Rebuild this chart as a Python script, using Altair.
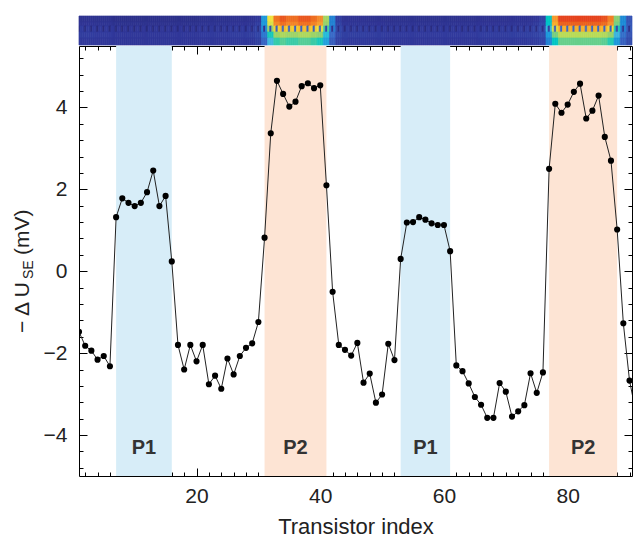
import altair as alt
import pandas as pd

# ---------------- data ----------------
transistor = list(range(1, 92))
delta_u = [
    -1.48, -1.82, -1.94, -2.16, -2.07, -2.32, 1.32, 1.78, 1.67, 1.59,
    1.67, 1.93, 2.46, 1.59, 1.84, 0.24, -1.80, -2.40, -1.80, -2.20,
    -1.80, -2.76, -2.55, -2.87, -2.13, -2.52, -2.07, -1.87, -1.76, -1.24,
    0.82, 3.37, 4.65, 4.33, 4.02, 4.14, 4.52, 4.59, 4.47, 4.54,
    2.10, -0.50, -1.80, -1.92, -2.06, -1.75, -2.72, -2.50, -3.21, -3.01,
    -1.77, -2.17, 0.30, 1.19, 1.20, 1.32, 1.26, 1.17, 1.13, 1.13,
    0.49, -2.30, -2.44, -2.74, -3.07, -3.26, -3.58, -3.58, -2.73, -2.94,
    -3.55, -3.42, -3.27, -2.49, -2.97, -2.47, 2.50, 4.09, 3.87, 4.07,
    4.38, 4.58, 3.73, 3.92, 4.29, 3.28, 2.70, 1.02, -1.27, -2.67,
    -3.43,
]
# relative intensity of the heat-map strip per transistor (0 = background, 1 = hottest)
heat = [
    0.03, 0.03, 0.03, 0.02, 0.02, 0.02, 0.0, 0.0, 0.0, 0.0,
    0.0, 0.0, 0.0, 0.0, 0.0, 0.0, 0.0, 0.0, 0.0, 0.0,
    0.02, 0.02, 0.02, 0.02, 0.02, 0.03, 0.03, 0.03, 0.04, 0.08,
    0.35, 0.72, 0.92, 0.97, 0.93, 0.93, 0.97, 0.97, 0.93, 0.88,
    0.62, 0.30, 0.10, 0.05, 0.04, 0.04, 0.04, 0.03, 0.03, 0.03,
    0.02, 0.02, 0.02, 0.02, 0.02, 0.02, 0.02, 0.02, 0.02, 0.02,
    0.02, 0.02, 0.02, 0.02, 0.02, 0.03, 0.03, 0.03, 0.03, 0.03,
    0.04, 0.04, 0.04, 0.05, 0.07, 0.12, 0.48, 0.85, 1.0, 1.0,
    1.0, 1.0, 1.0, 1.0, 1.0, 0.98, 0.90, 0.58, 0.32, 0.18,
    0.12,
]
band_start = [7, 31, 53, 77]
band_end = [16, 41, 61, 88]
band_label = ["P1", "P2", "P1", "P2"]
band_kind = ["P1", "P2", "P1", "P2"]

x_major = [20, 40, 60, 80]
x_minor = [v for v in range(2, 91, 2) if v % 20 != 0]
y_major = [-4, -2, 0, 2, 4]
y_minor = [-4.8, -4.4, -3.6, -3.2, -2.8, -2.4, -1.6, -1.2, -0.8, -0.4,
           0.4, 0.8, 1.2, 1.6, 2.4, 2.8, 3.2, 3.6, 4.4, 4.8, 5.2]

# heat-map rows (top to bottom): background level, hot level
heat_rows = [
    ("r0", 0.08, 0.97),
    ("r1", 0.10, 0.93),
    ("r2", 0.14, 0.80),
    ("r3", 0.15, 0.66),
    ("r4", 0.14, 0.57),
]
stripe_level = (0.03, 0.30)
heat_colors = ["#28297a", "#31389a", "#3a68c6", "#3fb6df", "#8fcf72",
               "#efe23e", "#f5902e", "#e0281f"]
heat_stops = [0.0, 0.15, 0.3, 0.45, 0.6, 0.72, 0.85, 1.0]

# ---------------- geometry ----------------
W, H = 553, 430
X_DOM = [1, 90.4]
FONT = "Liberation Sans"

xs = alt.Scale(domain=X_DOM, nice=False, zero=False)
ys = alt.Scale(domain=[-5, 5.5], nice=False, zero=False)

df = pd.DataFrame({"t": transistor, "u": delta_u})
bands = pd.DataFrame({"start": band_start, "end": band_end,
                      "label": band_label, "kind": band_kind})
bands["mid"] = (bands["start"] + bands["end"]) / 2

# heat-map cells
cells = []
for t, h in zip(transistor, heat):
    edges = [t - 0.5, t - 1 / 6, t + 1 / 6, t + 0.5]
    for k in range(3):
        x0 = max(edges[k], X_DOM[0])
        x1 = min(edges[k + 1], X_DOM[1])
        if x1 <= x0:
            continue
        for name, bg, hot in heat_rows:
            if name == "r2" and k == 1:
                bg, hot = stripe_level
            cells.append({"x0": x0, "x1": x1, "row": name, "v": bg + h * (hot - bg)})
cells = pd.DataFrame(cells)
row_pix = {"r0": (-30, -24), "r1": (-24, -20), "r2": (-20, -14), "r3": (-14, -8), "r4": (-8, -1)}


def x_axis(orient, values, size, labels=False, title=None):
    kw = dict(orient=orient, values=values, tickSize=size, offset=-size,
              domain=False, grid=False, labels=labels, tickColor="black",
              tickWidth=1)
    if labels:
        kw.update(labelFont=FONT, labelFontSize=21, labelColor="#222",
                  labelPadding=9)
    if title:
        kw.update(title=title, titleFont=FONT, titleFontSize=22,
                  titleFontWeight="normal", titleColor="#222", titlePadding=10)
    else:
        kw.update(title=None)
    return alt.Axis(**kw)


def y_axis(orient, values, size, labels=False):
    kw = dict(orient=orient, values=values, tickSize=size, offset=-size,
              domain=False, grid=False, labels=labels, tickColor="black",
              tickWidth=1, title=None)
    if labels:
        kw.update(labelFont=FONT, labelFontSize=21, labelColor="#222",
                  labelPadding=12)
    return alt.Axis(**kw)


layers = []

# heat-map strip above the plot
heat_scale = alt.Scale(domain=heat_stops, range=heat_colors)
for name, (p0, p1) in row_pix.items():
    layers.append(
        alt.Chart(cells).transform_filter(alt.datum.row == name).mark_rect(
            clip=False, strokeWidth=0.7
        ).encode(
            x=alt.X("x0:Q", scale=xs, axis=None),
            x2="x1:Q",
            y=alt.value(p0),
            y2=alt.value(p1),
            color=alt.Color("v:Q", scale=heat_scale, legend=None),
            stroke=alt.Stroke("v:Q", scale=heat_scale, legend=None),
        )
    )

# shaded bands
band_colors = {"P1": "#d7edf8", "P2": "#fde4d4"}
for kind, col in band_colors.items():
    layers.append(
        alt.Chart(bands).transform_filter(alt.datum.kind == kind).mark_rect(
            opacity=1
        ).encode(
            x=alt.X("start:Q", scale=xs, axis=None),
            x2="end:Q",
            y=alt.value(0),
            y2=alt.value(H),
            color=alt.value(col),
        )
    )

layers.append(
    alt.Chart(bands).mark_text(
        font=FONT, fontSize=20, fontWeight="bold", color="#333"
    ).encode(
        x=alt.X("mid:Q", scale=xs, axis=None),
        y=alt.value(402),
        text="label:N",
    )
)

# line with main axes (bottom / left)
layers.append(
    alt.Chart(df).mark_line(color="#222", strokeWidth=1, clip=True).encode(
        x=alt.X("t:Q", scale=xs, axis=x_axis("bottom", x_major, 8, True, "Transistor index")),
        y=alt.Y("u:Q", scale=ys, axis=y_axis("left", y_major, 8, True)),
    )
)
# minor ticks bottom / left
layers.append(
    alt.Chart(df).mark_circle(size=38, color="black", opacity=1, clip=True).encode(
        x=alt.X("t:Q", scale=xs, axis=x_axis("bottom", x_minor, 4)),
        y=alt.Y("u:Q", scale=ys, axis=y_axis("left", y_minor, 4)),
    )
)
# top / right major
layers.append(
    alt.Chart(df).mark_point(opacity=0, clip=True).encode(
        x=alt.X("t:Q", scale=xs, axis=x_axis("top", x_major, 8)),
        y=alt.Y("u:Q", scale=ys, axis=y_axis("right", y_major, 8)),
    )
)
# top / right minor
layers.append(
    alt.Chart(df).mark_point(opacity=0, clip=True).encode(
        x=alt.X("t:Q", scale=xs, axis=x_axis("top", x_minor, 4)),
        y=alt.Y("u:Q", scale=ys, axis=y_axis("right", y_minor, 4)),
    )
)

# y title with subscript
one = pd.DataFrame({"a": [0]})
layers.append(alt.Chart(one).mark_text(
    text="\u2212 \u0394 U", font=FONT, fontSize=21, angle=270, align="left",
    baseline="middle", color="#222").encode(x=alt.value(-56), y=alt.value(287)))
layers.append(alt.Chart(one).mark_text(
    text="SE", font=FONT, fontSize=14, angle=270, align="left",
    baseline="middle", color="#222").encode(x=alt.value(-50), y=alt.value(233)))
layers.append(alt.Chart(one).mark_text(
    text="(mV)", font=FONT, fontSize=21, angle=270, align="left",
    baseline="middle", color="#222").encode(x=alt.value(-56), y=alt.value(209)))

chart = alt.layer(*layers).resolve_axis(
    x="independent", y="independent"
).properties(
    width=W, height=H,
    padding={"left": 4, "top": 7, "right": 0, "bottom": 0},
).configure_view(stroke="black", strokeWidth=1)

chart.save("out.html", embed_options={"renderer": "svg", "actions": False})
